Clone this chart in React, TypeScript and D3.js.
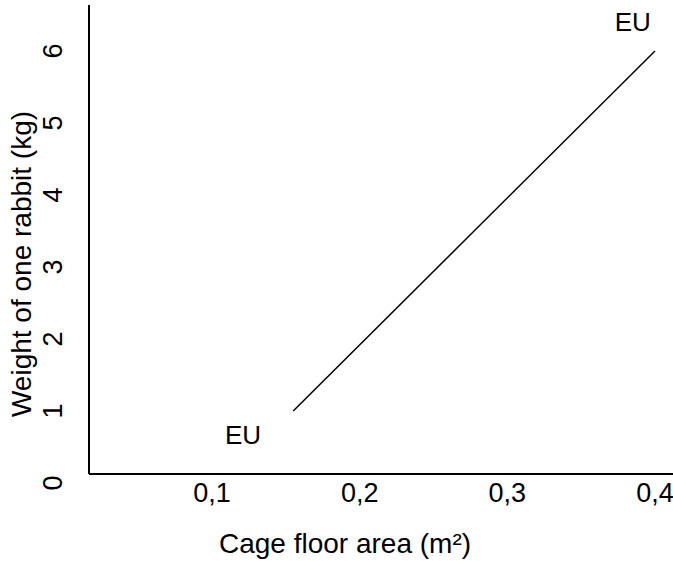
import React from "react";
import * as d3 from "d3";

// Data
const xTicks = [0.1, 0.2, 0.3, 0.4];
const xTickLabels = ["0,1", "0,2", "0,3", "0,4"];
const yTicks = [0, 1, 2, 3, 4, 5, 6];
const lineX = [0.155, 0.4];
const lineY = [1, 6];
const annotationLabels = ["EU", "EU"];
const annotationX = [0.121, 0.385];
const annotationY = [0.66, 6.4];

const W = 673;
const H = 561;
const FONT = "'Liberation Sans', Arial, Helvetica, sans-serif";

export default function App() {
  const x = d3.scaleLinear().domain([0.1, 0.4]).range([212, 655]);
  const y = d3.scaleLinear().domain([0, 6]).range([483, 51]);
  const plotLeft = 89;
  const plotBottom = 474;
  const plotTop = 5;

  const pts: [number, number][] = lineX.map((v, i) => [v, lineY[i]]);
  const line = d3
    .line<[number, number]>()
    .x((d) => x(d[0]))
    .y((d) => y(d[1]));

  return (
    <svg
      width={W}
      height={H}
      style={{ position: "absolute", left: 0, top: 0, background: "#fff" }}
      fontFamily={FONT}
    >
      <rect x={0} y={0} width={W} height={H} fill="#fff" />
      {/* axes lines */}
      <line x1={plotLeft} y1={plotTop} x2={plotLeft} y2={plotBottom} stroke="#000" strokeWidth={2} />
      <line x1={plotLeft} y1={plotBottom} x2={W} y2={plotBottom} stroke="#000" strokeWidth={2} />

      {/* x tick labels */}
      {xTicks.map((t, i) => (
        <text key={"xt" + i} x={x(t)} y={502} textAnchor="middle" fontSize={27} fill="#000">
          {xTickLabels[i]}
        </text>
      ))}

      {/* y tick labels */}
      {yTicks.map((t) => (
        <text
          key={"yt" + t}
          transform={`translate(62,${y(t)}) rotate(-90)`}
          textAnchor="middle"
          fontSize={27}
          fill="#000"
        >
          {String(t)}
        </text>
      ))}

      {/* data line */}
      <path d={line(pts) || ""} fill="none" stroke="#000" strokeWidth={1.5} />

      {/* annotations */}
      {annotationLabels.map((l, i) => (
        <text
          key={"an" + i}
          x={x(annotationX[i])}
          y={y(annotationY[i]) + 9}
          textAnchor="middle"
          fontSize={26}
          fill="#000"
        >
          {l}
        </text>
      ))}

      {/* axis titles */}
      <text x={345} y={553} textAnchor="middle" fontSize={28} fill="#000">
        Cage floor area (m²)
      </text>
      <text
        transform={`translate(31,264) rotate(-90)`}
        textAnchor="middle"
        fontSize={28}
        fill="#000"
      >
        Weight of one rabbit (kg)
      </text>
    </svg>
  );
}
